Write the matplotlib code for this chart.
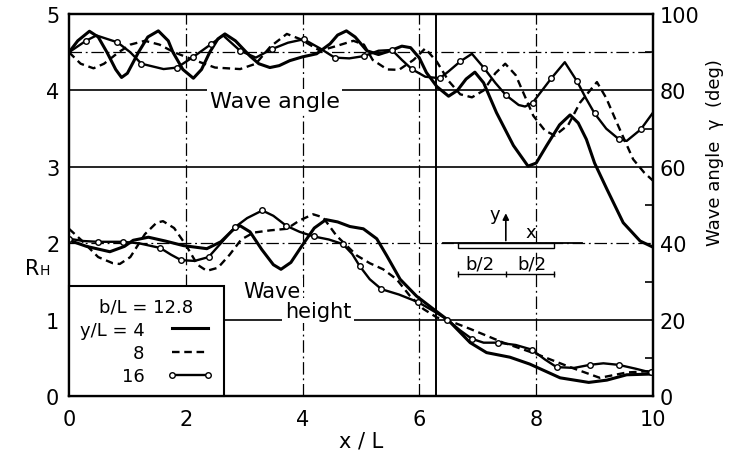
import matplotlib.pyplot as plt
from matplotlib.lines import Line2D
from matplotlib.patches import Rectangle

plt.rcParams['font.family'] = ['DejaVu Sans']

# wave angle gamma (deg) along the plate, y/L = 4, 8, 16
xa4 = [0, 0.15, 0.35, 0.5, 0.65, 0.8, 0.9, 1.0, 1.19, 1.35, 1.53, 1.7, 1.78, 1.95, 2.13, 2.27,
       2.41, 2.55, 2.67, 2.85, 3.1, 3.25, 3.44, 3.6, 3.78, 4.0, 4.24, 4.47, 4.6, 4.75, 4.9, 5.1,
       5.3, 5.5, 5.7, 5.85, 6.0, 6.12, 6.3, 6.5, 6.65, 6.8, 6.95, 7.1, 7.32, 7.61, 7.86, 8.0,
       8.18, 8.4, 8.58, 8.72, 8.86, 9.0, 9.21, 9.49, 9.78, 10.0]
ga4 = [90, 93, 95.5, 94, 90, 85.5, 83.4, 84.5, 90, 94, 95.6, 93, 90, 85.5, 83.2, 85.5,
       90, 93.5, 94.8, 93, 89, 87, 86, 86.5, 87.8, 88.8, 89.6, 92.2, 94.5, 95.6, 94, 90.4,
       89.4, 90.4, 91.6, 91.2, 88.5, 84.7, 81, 78.5, 80, 83, 84.8, 82, 74.2, 65.6, 60.2, 61,
       65.6, 71, 73.6, 71.5, 67.2, 61, 54.2, 45.4, 40.6, 39]

xa8 = [0, 0.2, 0.42, 0.6, 0.85, 1.05, 1.3, 1.55, 1.8, 2.1, 2.5, 2.93, 3.2, 3.45, 3.73, 3.95,
       4.3, 4.55, 4.87, 5.05, 5.2, 5.45, 5.65, 5.9, 6.1, 6.3, 6.5, 6.7, 6.9, 7.1, 7.3, 7.47,
       7.65, 7.95, 8.15, 8.32, 8.55, 8.75, 9.04, 9.2, 9.38, 9.66, 9.85, 10.0]
ga8 = [90, 87, 85.8, 87, 90, 92, 93, 92, 90, 88.2, 86, 85.6, 87, 91.5, 94.8, 93.5,
       90.4, 91.5, 93, 92, 88, 85.5, 85.4, 88, 91, 87.5, 82.5, 79, 78.2, 80, 84.5, 87,
       84, 73.4, 69.5, 68.2, 71, 76.8, 82.2, 78, 71.6, 62, 58.5, 56.4]

xa16 = [0, 0.29, 0.47, 0.83, 1.05, 1.24, 1.62, 1.85, 2.13, 2.44, 2.64, 2.93, 3.2, 3.47, 3.75, 4.02,
        4.3, 4.55, 4.8, 5.05, 5.3, 5.53, 5.7, 5.87, 6.1, 6.35, 6.5, 6.7, 6.9, 7.1, 7.3, 7.48,
        7.7, 7.81, 7.94, 8.1, 8.26, 8.49, 8.7, 8.85, 9.0, 9.2, 9.42, 9.55, 9.79, 10.0]
ga16 = [90, 93, 94.4, 92.6, 90, 87, 85.6, 86, 88.8, 92.2, 94.4, 90.4, 88.6, 90.8, 92.5, 93.4,
        91, 88.6, 88.4, 89, 90.4, 90.6, 88, 85.6, 83.6, 83.2, 85, 87.6, 89.6, 86, 82, 78.8,
        76.2, 75.8, 76.8, 80, 83.2, 87.4, 82.4, 78, 74, 70, 67.2, 66.8, 69.8, 74.2]
ga16_marks = [1, 3, 5, 7, 8, 9, 11, 13, 15, 17, 19, 21, 23, 25, 27, 29, 31, 34, 36, 38, 40, 42, 44]

# wave height ratio R_H
xh4 = [0, 0.3, 0.7, 0.95, 1.1, 1.36, 1.65, 1.96, 2.36, 2.6, 2.8, 2.93, 3.1, 3.3, 3.5, 3.63,
       3.8, 4.0, 4.2, 4.4, 4.6, 4.81, 5.04, 5.27, 5.44, 5.67, 5.95, 6.24, 6.5, 6.87, 7.15, 7.55,
       7.89, 8.41, 8.9, 9.21, 9.55, 10.0]
rh4 = [2.04, 1.96, 1.89, 1.96, 2.04, 2.08, 2.03, 1.97, 1.93, 2.02, 2.17, 2.23, 2.15, 1.92, 1.72, 1.66,
       1.75, 1.98, 2.2, 2.31, 2.28, 2.22, 2.19, 2.06, 1.84, 1.53, 1.31, 1.14, 0.99, 0.70, 0.57, 0.51,
       0.42, 0.24, 0.18, 0.21, 0.28, 0.29]

xh8 = [0, 0.2, 0.5, 0.75, 0.87, 1.05, 1.3, 1.5, 1.61, 1.8, 2.0, 2.2, 2.36, 2.55, 2.75, 2.95,
       3.16, 3.45, 3.73, 3.95, 4.18, 4.35, 4.58, 4.93, 5.15, 5.38, 5.61, 5.84, 6.07, 6.3, 6.5, 6.87,
       7.44, 8.01, 8.58, 9.09, 9.55, 10.0]
rh8 = [2.19, 2.05, 1.82, 1.74, 1.73, 1.82, 2.12, 2.27, 2.29, 2.2, 1.98, 1.72, 1.64, 1.68, 1.85, 2.05,
       2.14, 2.17, 2.19, 2.3, 2.38, 2.34, 2.10, 1.84, 1.74, 1.66, 1.53, 1.31, 1.14, 1.03, 0.99, 0.88,
       0.70, 0.55, 0.38, 0.24, 0.31, 0.33]

xh16 = [0, 0.25, 0.49, 0.92, 1.2, 1.56, 1.75, 1.92, 2.15, 2.39, 2.6, 2.84, 3.05, 3.31, 3.5, 3.72,
        3.95, 4.19, 4.45, 4.69, 4.85, 4.98, 5.15, 5.35, 5.65, 5.98, 6.25, 6.48, 6.7, 6.9, 7.1, 7.35,
        7.65, 7.92, 8.15, 8.35, 8.65, 8.92, 9.15, 9.41, 9.7, 9.96]
rh16 = [2.06, 2.03, 2.02, 2.02, 2.0, 1.94, 1.85, 1.78, 1.77, 1.82, 2.0, 2.21, 2.33, 2.43, 2.36, 2.23,
        2.15, 2.09, 2.05, 1.99, 1.86, 1.70, 1.53, 1.40, 1.33, 1.23, 1.11, 1.0, 0.86, 0.75, 0.70, 0.70,
        0.67, 0.61, 0.48, 0.38, 0.37, 0.41, 0.43, 0.41, 0.36, 0.31]
rh16_marks = [0, 2, 3, 5, 7, 9, 11, 13, 15, 17, 19, 21, 23, 25, 27, 29, 31, 33, 35, 37, 39, 41]

solid = dict(color='k', lw=2.2, solid_joinstyle='round', solid_capstyle='round', zorder=4)
dashed = dict(color='k', lw=1.7, ls=(0, (3.2, 2.0)), zorder=4)
thin = dict(color='k', lw=1.7, solid_joinstyle='round', zorder=4)
circ = dict(ls='none', marker='o', ms=4, mfc='white', mec='k', mew=1.0, zorder=5)
dashdot = (0, (10, 3, 1.5, 3))

fig = plt.figure(figsize=(7.3, 4.56), dpi=100)
ax = fig.add_axes([0.0945, 0.129, 0.8, 0.838])
ax.set_xlim(0, 10)
ax.set_ylim(0, 5)

# reference lines
for y in (1, 3, 4):
    ax.axhline(y, color='k', lw=1.2, zorder=1)
for y in (2, 4.5):
    ax.axhline(y, color='k', lw=0.9, ls=dashdot, zorder=1)
for x in (2, 4, 6, 8):
    ax.axvline(x, color='k', lw=0.9, ls=dashdot, zorder=1)
ax.axvline(6.28, color='k', lw=1.4, zorder=1)

# wave height curves
ax.plot(xh4, rh4, **solid)
ax.plot(xh8, rh8, **dashed)
ax.plot(xh16, rh16, **thin)
ax.plot([xh16[i] for i in rh16_marks], [rh16[i] for i in rh16_marks], **circ)

# wave angle curves on the right-hand scale
ax2 = ax.twinx()
ax2.set_ylim(0, 100)
ax2.plot(xa4, ga4, **solid)
ax2.plot(xa8, ga8, **dashed)
ax2.plot(xa16, ga16, **thin)
ax2.plot([xa16[i] for i in ga16_marks], [ga16[i] for i in ga16_marks], **circ)

ax.set_xticks(range(0, 11, 2))
ax.set_yticks(range(6))
ax.tick_params(length=0, labelsize=15)
ax.tick_params(axis='x', pad=9)
ax.tick_params(axis='y', pad=7)
ax2.set_yticks(range(0, 101, 20))
ax2.set_yticks(range(10, 100, 20), minor=True)
ax2.tick_params(axis='y', which='major', length=0, labelsize=15, pad=5)
ax2.tick_params(axis='y', which='minor', direction='in', length=6, width=1.2)
for a in (ax, ax2):
    for s in a.spines.values():
        s.set_linewidth(1.6)

ax.set_xlabel('x / L', fontsize=15, labelpad=1)
ax2.set_ylabel('Wave angle  γ  (deg)', fontsize=13)
ax2.yaxis.set_label_coords(1.09, 0.64)
fig.text(0.034, 0.397, 'R', fontsize=15, ha='left', va='baseline')
fig.text(0.054, 0.397, 'H', fontsize=10, ha='left', va='baseline')

box = dict(fc='white', ec='none', pad=2)
ax.text(3.52, 3.86, 'Wave angle', fontsize=16, ha='center', va='center', bbox=box, zorder=2)
ax.text(2.98, 1.30, 'Wave', fontsize=15, ha='left', va='baseline', bbox=box, zorder=2)
ax.text(3.70, 1.04, 'height', fontsize=15, ha='left', va='baseline', bbox=box, zorder=2)

# sketch of the plate
ax.plot([6.40, 8.78], [2.0, 2.0], color='k', lw=1.3, zorder=3)
ax.add_patch(Rectangle((6.66, 1.945), 1.64, 0.055, fc='white', ec='k', lw=1.0, zorder=3))
ax.annotate('', xy=(7.48, 2.43), xytext=(7.48, 2.0),
            arrowprops=dict(arrowstyle='-|>', color='k', lw=1.2, mutation_scale=9), zorder=3)
ax.text(7.30, 2.38, 'y', fontsize=13, ha='center', va='center')
ax.text(7.91, 2.15, 'x', fontsize=13, ha='center', va='center')
ax.plot([6.66, 8.30], [1.60, 1.60], color='k', lw=1.0, zorder=3)
ax.plot([6.66, 7.48, 8.30], [1.60, 1.60, 1.60], ls='none', marker='|', ms=5, color='k', zorder=3)
ax.text(7.04, 1.73, 'b/2', fontsize=13, ha='center', va='center')
ax.text(7.93, 1.73, 'b/2', fontsize=13, ha='center', va='center')

handles = [Line2D([], [], color='k', lw=2.2),
           Line2D([], [], color='k', lw=1.7, ls=(0, (3.2, 2.0))),
           Line2D([], [], color='k', lw=1.7, marker='o', ms=4, mfc='white', mew=1.0)]
leg = ax.legend(handles, ['y/L = 4', '8', '16'], title='b/L = 12.8', loc='lower left',
                bbox_to_anchor=(0, 0), borderaxespad=0, markerfirst=False, numpoints=2,
                handlelength=2.6, handletextpad=1.2, fontsize=13, title_fontsize=13,
                fancybox=False, edgecolor='k', framealpha=1, labelspacing=0.3, borderpad=0.6)
leg.get_frame().set_linewidth(1.5)
leg.set_zorder(3)

fig.savefig('out.png', dpi=100)
